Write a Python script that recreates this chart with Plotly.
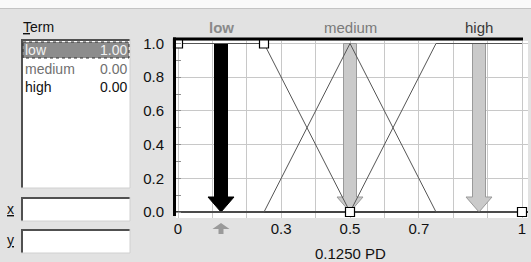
import plotly.graph_objects as go

# ---------------- data ----------------
x_points = [0, 0.25, 0.5, 0.75, 1]
low_mu = [1, 1, 0, 0, 0]
medium_mu = [0, 0, 1, 0, 0]
high_mu = [0, 0, 0, 1, 1]
low_def_x = [0, 0.25, 0.5, 1]
low_def_mu = [1, 1, 0, 0]
terms = ["low", "medium", "high"]
term_centers = [0.125, 0.5, 0.875]
term_values = ["1.00", "0.00", "0.00"]
input_value = 0.125
variable_unit = "PD"
x_tickvals = [0, 0.3, 0.5, 0.7, 1]
x_ticktext = ["0", "0.3", "0.5", "0.7", "1"]
y_tickvals = [0, 0.2, 0.4, 0.6, 0.8, 1.0]
y_ticktext = ["0.0", "0.2", "0.4", "0.6", "0.8", "1.0"]

# ---------------- layout geometry ----------------
W, H = 531, 262
L, R, T, B = 176, 3, 41, 44
PW, PH = W - L - R, H - T - B
XPX, YPX = 344.0, 168.5   # pixels per data unit
XMIN, XMAX = -2 / XPX, 1 + 6 / XPX
YMIN, YMAX = -6 / YPX, 1 + 2.5 / YPX
FONT = "Liberation Sans, Arial, sans-serif"
BG = "#e2e2e2"
GRID = "#c8c8c8"


def px(xp):
    return (xp - L) / PW


def py(yp):
    return (H - B - yp) / PH


fig = go.Figure()

# arrows (drawn first)
sw_px, hw_px, hh_px = 6.5, 13, 15
for i, c in enumerate(term_centers):
    sw, hw, hh = sw_px / XPX, hw_px / XPX, hh_px / YPX
    xs = [c - sw, c + sw, c + sw, c + hw, c, c - hw, c - sw, c - sw]
    ys = [1, 1, hh, hh, 0, hh, hh, 1]
    if i == 0:
        fill, line = "#000000", dict(color="#000000", width=1)
    else:
        fill, line = "#cacaca", dict(color="#9a9a9a", width=1)
    fig.add_trace(go.Scatter(x=xs, y=ys, mode="lines", fill="toself",
                             fillcolor=fill, line=line, hoverinfo="skip",
                             showlegend=False))

# membership functions
for mu in (medium_mu, high_mu):
    fig.add_trace(go.Scatter(x=x_points, y=mu, mode="lines",
                             line=dict(color="#555555", width=1),
                             showlegend=False, hoverinfo="skip"))
fig.add_trace(go.Scatter(x=low_def_x, y=low_def_mu, mode="lines",
                         line=dict(color="#555555", width=1),
                         showlegend=False, hoverinfo="skip"))
# definition points of the selected term
fig.add_trace(go.Scatter(x=low_def_x, y=low_def_mu, mode="markers",
                         marker=dict(symbol="square", size=9, color="white",
                                     line=dict(color="black", width=1.2)),
                         cliponaxis=False, showlegend=False, hoverinfo="skip"))

shapes = []
# top white strip
shapes.append(dict(type="rect", xref="paper", yref="paper", x0=px(0), x1=px(W),
                   y0=py(0), y1=py(8), fillcolor="#fafafa", line=dict(width=0), layer="below"))
shapes.append(dict(type="line", xref="paper", yref="paper", x0=px(0), x1=px(W),
                   y0=py(8.5), y1=py(8.5), line=dict(color="#c4c4c4", width=1)))
# plot frame
shapes.append(dict(type="line", xref="paper", yref="paper", x0=px(173), x1=px(523),
                   y0=py(39), y1=py(39), line=dict(color="black", width=3)))
shapes.append(dict(type="line", xref="paper", yref="paper", x0=px(174.5), x1=px(174.5),
                   y0=py(37.5), y1=py(216), line=dict(color="black", width=3)))


def sunken_box(x0, y0, x1, y1):
    shapes.append(dict(type="rect", xref="paper", yref="paper", x0=px(x0), x1=px(x1),
                       y0=py(y0), y1=py(y1), fillcolor="white", line=dict(width=0)))
    shapes.append(dict(type="line", xref="paper", yref="paper", x0=px(x0), x1=px(x1),
                       y0=py(y0 + 1), y1=py(y0 + 1), line=dict(color="#505050", width=2)))
    shapes.append(dict(type="line", xref="paper", yref="paper", x0=px(x0 + 1), x1=px(x0 + 1),
                       y0=py(y0), y1=py(y1), line=dict(color="#505050", width=2)))
    shapes.append(dict(type="line", xref="paper", yref="paper", x0=px(x1), x1=px(x1),
                       y0=py(y0), y1=py(y1), line=dict(color="#d0d0d0", width=1)))
    shapes.append(dict(type="line", xref="paper", yref="paper", x0=px(x0), x1=px(x1),
                       y0=py(y1), y1=py(y1), line=dict(color="#d0d0d0", width=1)))


sunken_box(21, 39, 130, 188)
sunken_box(21, 197, 130, 221)
sunken_box(21, 229, 130, 253)
# selected row
shapes.append(dict(type="rect", xref="paper", yref="paper", x0=px(23), x1=px(129),
                   y0=py(42), y1=py(58), fillcolor="#8c8c8c", line=dict(width=0)))
shapes.append(dict(type="rect", xref="paper", yref="paper", x0=px(23), x1=px(129),
                   y0=py(42), y1=py(58), fillcolor="rgba(0,0,0,0)",
                   line=dict(color="#303030", width=1, dash="dot")))

# small input marker (up arrow) below the axis at the input value
xi = (input_value - XMIN) / (XMAX - XMIN)
hwp, swp = 8.5 / PW, 2.5 / PW
y_tip, y_base, y_end = py(223), py(229), py(234)
shapes.append(dict(type="path", xref="paper", yref="paper",
                   path=("M %f %f L %f %f L %f %f L %f %f L %f %f L %f %f L %f %f Z" % (
                       xi, y_tip, xi + hwp, y_base, xi + swp, y_base, xi + swp, y_end,
                       xi - swp, y_end, xi - swp, y_base, xi - hwp, y_base)),
                   fillcolor="#9a9a9a", line=dict(width=0)))

ann = []
# header term labels
head_styles = [("#8a8a8a", True), ("#7a7a7a", False), ("#3a3a3a", False)]
for t, c, (col, bold) in zip(terms, term_centers, head_styles):
    ann.append(dict(x=c, y=py(27), xref="x", yref="paper", text=("<b>%s</b>" % t) if bold else t,
                    showarrow=False, font=dict(family=FONT, size=15, color=col),
                    xanchor="center", yanchor="middle"))
# Term label
ann.append(dict(x=px(21), y=py(27), xref="paper", yref="paper", text="<u>T</u>erm",
                showarrow=False, font=dict(family=FONT, size=14, color="#111"),
                xanchor="left", yanchor="middle"))
# list entries
row_y = [50, 69, 87]
row_col = ["#f2f2f2", "#707070", "#111111"]
for t, v, yy, col in zip(terms, term_values, row_y, row_col):
    ann.append(dict(x=px(23), y=py(yy), xref="paper", yref="paper", text=t, showarrow=False,
                    font=dict(family=FONT, size=14, color=col), xanchor="left", yanchor="middle"))
    ann.append(dict(x=px(129), y=py(yy), xref="paper", yref="paper", text=v, showarrow=False,
                    font=dict(family=FONT, size=14, color=col), xanchor="right", yanchor="middle"))
# x / y labels
for lab, yy in (("x", 209), ("y", 240)):
    ann.append(dict(x=px(10), y=py(yy), xref="paper", yref="paper", text="<u>%s</u>" % lab,
                    showarrow=False, font=dict(family=FONT, size=14, color="#111"),
                    xanchor="center", yanchor="middle"))
# value label
ann.append(dict(x=0.5, y=py(253), xref="x", yref="paper",
                text="%.4f %s" % (input_value, variable_unit), showarrow=False,
                font=dict(family=FONT, size=15, color="#111"), xanchor="center", yanchor="middle"))

fig.update_layout(
    width=W, height=H, margin=dict(l=L, r=R, t=T, b=B, pad=0),
    paper_bgcolor=BG, plot_bgcolor="white", showlegend=False,
    shapes=shapes, annotations=ann,
    font=dict(family=FONT, size=15, color="#111"),
    xaxis=dict(range=[XMIN, XMAX], tickmode="array", tickvals=x_tickvals,
               ticktext=x_ticktext, showgrid=True, gridcolor=GRID, gridwidth=1,
               zeroline=False, showline=False, ticks="", fixedrange=True,
               tickfont=dict(family=FONT, size=15, color="#111"),
               minor=dict(dtick=0.1, tick0=0, showgrid=True, gridcolor=GRID, gridwidth=1, ticks="")),
    yaxis=dict(range=[YMIN, YMAX], tickmode="array", tickvals=y_tickvals,
               ticktext=y_ticktext, showgrid=True, gridcolor=GRID, gridwidth=1,
               zeroline=True, zerolinecolor="#333333", zerolinewidth=1.5,
               showline=False, ticks="", fixedrange=True, ticklabelstandoff=11,
               tickfont=dict(family=FONT, size=15, color="#111"),
               minor=dict(dtick=0.1, tick0=0, ticks="inside", ticklen=5,
                          tickcolor="#909090", showgrid=False)),
)

fig.write_html("out.html", config={"displayModeBar": False},
               post_script="document.body.style.margin='0';document.body.style.overflow='hidden';")
